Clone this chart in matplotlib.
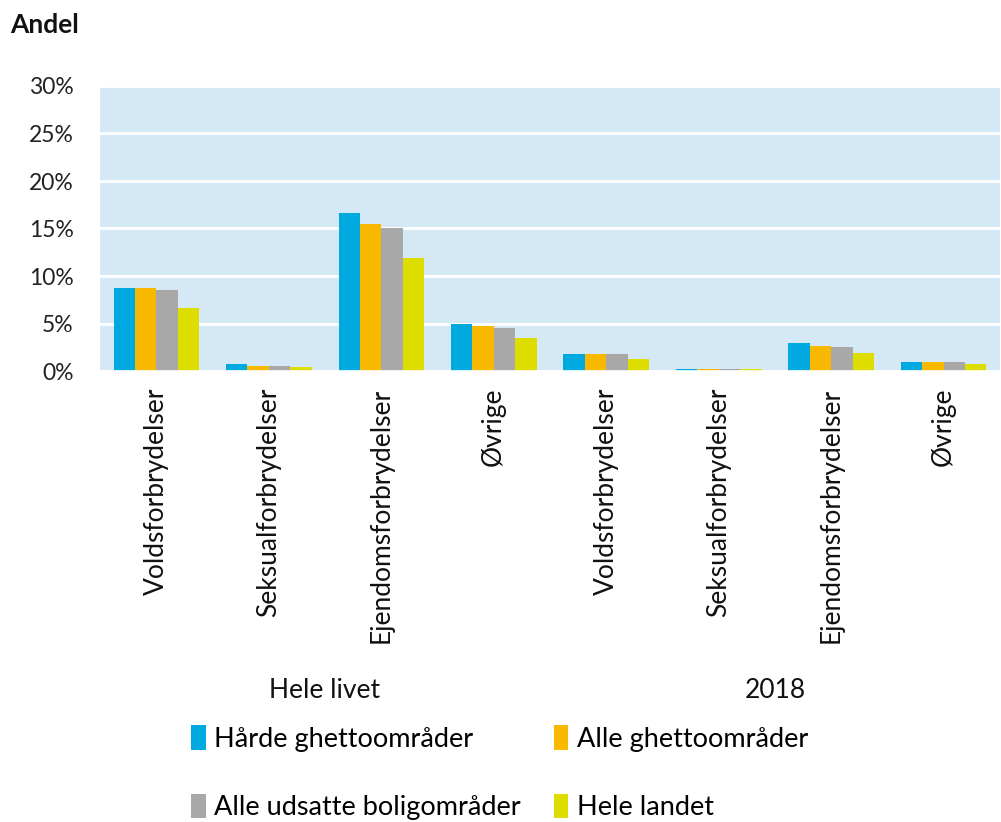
import matplotlib
matplotlib.use("Agg")
import matplotlib.pyplot as plt
import numpy as np

plt.rcParams['font.family'] = ['Lato', 'DejaVu Sans']

categories = ["Voldsforbrydelser", "Seksualforbrydelser", "Ejendomsforbrydelser", "Øvrige",
              "Voldsforbrydelser", "Seksualforbrydelser", "Ejendomsforbrydelser", "Øvrige"]
periods = ["Hele livet", "2018"]
series_names = ["Hårde ghettoområder", "Alle ghettoområder",
                "Alle udsatte boligområder", "Hele landet"]
harde = [8.7, 0.7, 16.6, 4.95, 1.8, 0.2, 2.95, 0.9]
alle_ghetto = [8.7, 0.55, 15.5, 4.7, 1.8, 0.2, 2.65, 0.9]
alle_udsatte = [8.55, 0.55, 15.1, 4.5, 1.75, 0.2, 2.5, 0.9]
hele_landet = [6.65, 0.4, 11.9, 3.5, 1.3, 0.2, 1.9, 0.7]
yticks = [0, 5, 10, 15, 20, 25, 30]

series = [harde, alle_ghetto, alle_udsatte, hele_landet]
colors = ["#00A9E0", "#F8B900", "#A8A8A8", "#DDDD00"]

W, H = 1001, 822
fig = plt.figure(figsize=(W / 100, H / 100), dpi=100)
ax = fig.add_axes([100 / W, 1 - 371 / H, 900 / W, (371 - 86) / H])
ax.set_facecolor("#D4E8F5")

x = np.arange(len(categories))
bw = 0.19
for i, (vals, col, name) in enumerate(zip(series, colors, series_names)):
    ax.bar(x + (i - 1.5) * bw, vals, width=bw, color=col, label=name, zorder=2)

ax.set_xlim(-0.5, len(categories) - 0.5)
ax.set_ylim(0, 30)
ax.set_yticks(yticks)
ax.set_yticklabels([f"{v}%" for v in yticks], fontsize=16.5, color="#222222")
ax.yaxis.grid(True, color="white", linewidth=2, zorder=1)
ax.set_axisbelow(True)
ax.axhline(0, color="white", linewidth=1.2, zorder=3)
for s in ax.spines.values():
    s.set_visible(False)
ax.tick_params(axis="y", length=0, pad=19)
ax.tick_params(axis="x", length=0, pad=12)
ax.set_xticks(x)
ax.set_xticklabels(categories, rotation=90, fontsize=19, color="#111111")

# period labels under each half
for j, p in enumerate(periods):
    xc = (100 + 450 * j + 225) / W
    fig.text(xc, 1 - 690 / H, p, ha="center", va="center", fontsize=19, color="#111111")

fig.text(10 / W, 1 - 25 / H, "Andel", ha="left", va="center", fontsize=19,
         fontweight="bold", color="#111111")

# legend filled row by row: two entries per row
handles, labels = ax.get_legend_handles_labels()
order = [0, 2, 1, 3]
fig.legend([handles[k] for k in order], [labels[k] for k in order],
           loc="upper left", bbox_to_anchor=(167 / W, 1 - 701 / H),
           ncol=2, frameon=False, fontsize=19.5, handlelength=0.55, handleheight=1.0,
           handletextpad=0.3, columnspacing=1.2, labelspacing=1.55)

fig.savefig("out.png", dpi=100)
